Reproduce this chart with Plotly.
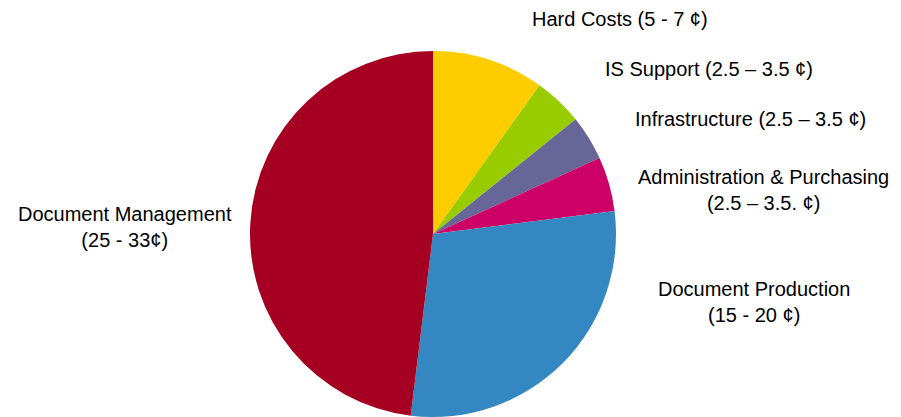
import plotly.graph_objects as go

W, H = 901, 417

categories = ["Hard Costs", "IS Support", "Infrastructure", "Administration & Purchasing",
              "Document Production", "Document Management"]
values = [35.6, 15.6, 14.3, 17.3, 104.2, 173.0]
label_texts = [
    "Hard Costs (5 - 7 ¢)",
    "IS Support (2.5 – 3.5 ¢)",
    "Infrastructure (2.5 – 3.5 ¢)",
    "Administration & Purchasing<br>(2.5 – 3.5. ¢)",
    "Document Production<br>(15 - 20 ¢)",
    "Document Management<br>(25 - 33¢)",
]
colors = ["#FFCC00", "#99CC00", "#666699", "#CC0066", "#3487C0", "#A50021"]

# label centre positions in pixels (x from left, y from top)
label_pos = [(619.5, 19), (709, 69), (750, 119), (763, 190), (754, 302), (125, 227)]

cx, cy, r = 433, 235, 184

fig = go.Figure(go.Pie(
    labels=categories,
    values=values,
    sort=False,
    direction="clockwise",
    rotation=0,
    marker=dict(colors=colors, line=dict(width=0)),
    textinfo="none",
    hoverinfo="label",
    showlegend=False,
    domain=dict(x=[(cx - r) / W, (cx + r) / W], y=[max(0, (H - cy - r) / H), (H - cy + r) / H]),
))

for txt, (px, py) in zip(label_texts, label_pos):
    fig.add_annotation(
        text=txt, x=px / W, y=1 - py / H, xref="paper", yref="paper",
        xanchor="center", yanchor="middle", showarrow=False, align="center",
        font=dict(family="Liberation Sans, Arial, sans-serif", size=20, color="#000000"),
    )

fig.update_layout(
    width=W, height=H,
    margin=dict(l=0, r=0, t=0, b=0),
    paper_bgcolor="white", plot_bgcolor="white",
)

fig.write_html("out.html")
